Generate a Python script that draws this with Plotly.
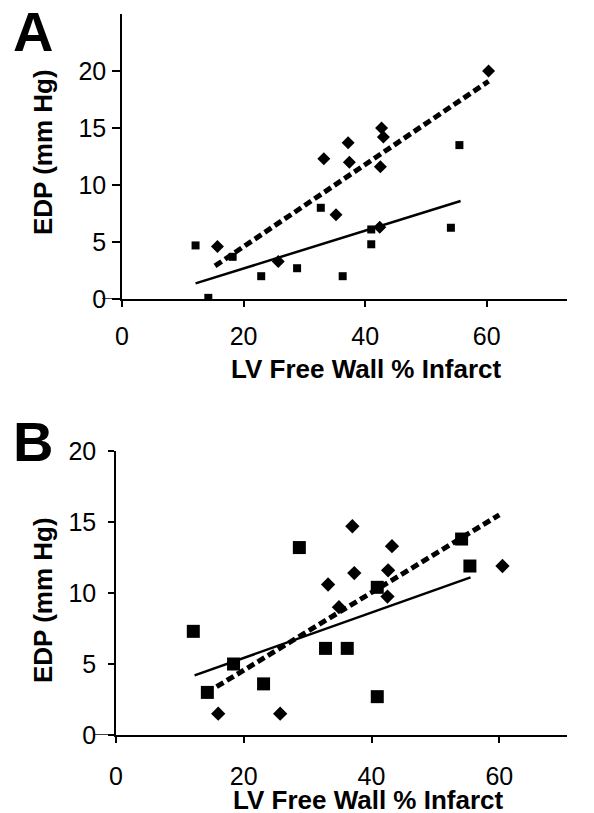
import plotly.graph_objects as go

# page is drawn with an 8px body offset, so the figure is 8px smaller
OFF = 8
W, H = 594 - OFF, 813 - OFF

# ---------------- Panel A data ----------------
a_sq_x = [12.1, 14.2, 18.2, 22.9, 28.8, 32.7, 36.3, 41.0, 41.0, 54.1, 55.5]
a_sq_y = [4.7, 0.1, 3.7, 2.0, 2.7, 8.0, 2.0, 6.1, 4.8, 6.25, 13.5]
a_di_x = [15.7, 25.7, 33.2, 35.2, 37.2, 37.4, 42.4, 42.5, 42.7, 43.0, 60.3]
a_di_y = [4.6, 3.3, 12.3, 7.4, 13.7, 12.0, 6.3, 11.6, 15.0, 14.2, 20.0]
a_solid_x = [12.1, 55.7]
a_solid_y = [1.37, 8.6]
a_dot_x = [15.3, 60.3]
a_dot_y = [2.9, 19.1]

# ---------------- Panel B data ----------------
b_sq_x = [12.1, 14.3, 18.4, 23.1, 28.7, 32.8, 36.2, 40.9, 40.9, 54.1, 55.4]
b_sq_y = [7.3, 3.0, 5.0, 3.6, 13.2, 6.1, 6.1, 10.4, 2.7, 13.8, 11.9]
b_di_x = [16.0, 25.7, 33.2, 34.9, 37.0, 37.3, 42.5, 42.6, 43.2, 60.5]
b_di_y = [1.5, 1.5, 10.6, 9.0, 14.7, 11.4, 9.75, 11.6, 13.3, 11.9]
b_solid_x = [12.3, 55.5]
b_solid_y = [4.2, 11.1]
b_dot_x = [15.75, 60.0]
b_dot_y = [3.4, 15.5]

x_ticks = [0, 20, 40, 60]
a_y_ticks = [0, 5, 10, 15, 20]
b_y_ticks = [0, 5, 10, 15, 20]

x_title = "LV Free Wall % Infarct"
y_title = "EDP (mm Hg)"

FONT = "Liberation Sans, Arial, sans-serif"
BLACK = "#000000"

fig = go.Figure()

def px_x(p):
    return (p - OFF) / W

def px_y(p):
    return 1 - (p - OFF) / H

# Panel A traces
fig.add_trace(go.Scatter(x=a_dot_x, y=a_dot_y, mode="lines", xaxis="x", yaxis="y",
                         line=dict(color=BLACK, width=5, dash="8px,4px")))
fig.add_trace(go.Scatter(x=a_solid_x, y=a_solid_y, mode="lines", xaxis="x", yaxis="y",
                         line=dict(color=BLACK, width=2.5)))
fig.add_trace(go.Scatter(x=a_sq_x, y=a_sq_y, mode="markers", xaxis="x", yaxis="y",
                         marker=dict(symbol="square", size=8, color=BLACK)))
fig.add_trace(go.Scatter(x=a_di_x, y=a_di_y, mode="markers", xaxis="x", yaxis="y",
                         marker=dict(symbol="diamond", size=10, color=BLACK)))

# Panel B traces
fig.add_trace(go.Scatter(x=b_dot_x, y=b_dot_y, mode="lines", xaxis="x2", yaxis="y2",
                         line=dict(color=BLACK, width=5, dash="8px,4px")))
fig.add_trace(go.Scatter(x=b_solid_x, y=b_solid_y, mode="lines", xaxis="x2", yaxis="y2",
                         line=dict(color=BLACK, width=2.5)))
fig.add_trace(go.Scatter(x=b_sq_x, y=b_sq_y, mode="markers", xaxis="x2", yaxis="y2",
                         marker=dict(symbol="square", size=13, color=BLACK)))
fig.add_trace(go.Scatter(x=b_di_x, y=b_di_y, mode="markers", xaxis="x2", yaxis="y2",
                         marker=dict(symbol="diamond", size=11, color=BLACK)))

tickfont = dict(family=FONT, size=25, color=BLACK)

axis_common = dict(showline=True, linecolor=BLACK, linewidth=1.5, ticks="outside",
                   tickcolor=BLACK, tickwidth=1.5, showgrid=False, zeroline=False,
                   tickfont=tickfont, fixedrange=True, automargin=False)

fig.update_layout(
    width=W, height=H, autosize=False,
    margin=dict(l=0, r=0, t=0, b=0, pad=0, autoexpand=False),
    paper_bgcolor="white", plot_bgcolor="white",
    showlegend=False,
    xaxis=dict(domain=[px_x(122), px_x(567)], range=[0, 73.2], anchor="y",
               tickvals=x_ticks, ticklen=6, ticklabelstandoff=8, **axis_common),
    yaxis=dict(domain=[px_y(299), px_y(14)], range=[0, 25], anchor="x",
               tickvals=a_y_ticks, ticklen=8, ticklabelstandoff=1, **axis_common),
    xaxis2=dict(domain=[px_x(116), px_x(567)], range=[0, 70.6], anchor="y2",
                tickvals=x_ticks, ticklen=6, ticklabelstandoff=12, **axis_common),
    yaxis2=dict(domain=[px_y(735), px_y(451)], range=[0, 20], anchor="x2",
                tickvals=b_y_ticks, ticklen=6, ticklabelstandoff=7, **axis_common),
)

# small extension of the x-axis line left of the y axis at zero
fig.add_shape(type="line", xref="paper", yref="y", x0=px_x(102), x1=px_x(122), y0=0, y1=0,
              line=dict(color=BLACK, width=1.5))
fig.add_shape(type="line", xref="paper", yref="y2", x0=px_x(95), x1=px_x(116), y0=0, y1=0,
              line=dict(color=BLACK, width=1.5))

titlefont = dict(family=FONT, size=26, color=BLACK)
ann = [
    dict(text="<b>A</b>", x=px_x(11), y=px_y(31), xanchor="left", yanchor="middle",
         font=dict(family=FONT, size=56, color=BLACK)),
    dict(text="<b>B</b>", x=px_x(11), y=px_y(441), xanchor="left", yanchor="middle",
         font=dict(family=FONT, size=56, color=BLACK)),
    dict(text="<b>" + x_title + "</b>", x=px_x(366), y=px_y(369), xanchor="center",
         yanchor="middle", font=titlefont),
    dict(text="<b>" + x_title + "</b>", x=px_x(369), y=px_y(800), xanchor="center",
         yanchor="middle", font=titlefont),
    dict(text="<b>" + y_title + "</b>", x=px_x(43), y=px_y(152), xanchor="center",
         yanchor="middle", textangle=-90, font=titlefont),
    dict(text="<b>" + y_title + "</b>", x=px_x(43), y=px_y(600), xanchor="center",
         yanchor="middle", textangle=-90, font=titlefont),
]
for a in ann:
    a.update(xref="paper", yref="paper", showarrow=False)
    fig.add_annotation(**a)

fig.write_html("out.html")
